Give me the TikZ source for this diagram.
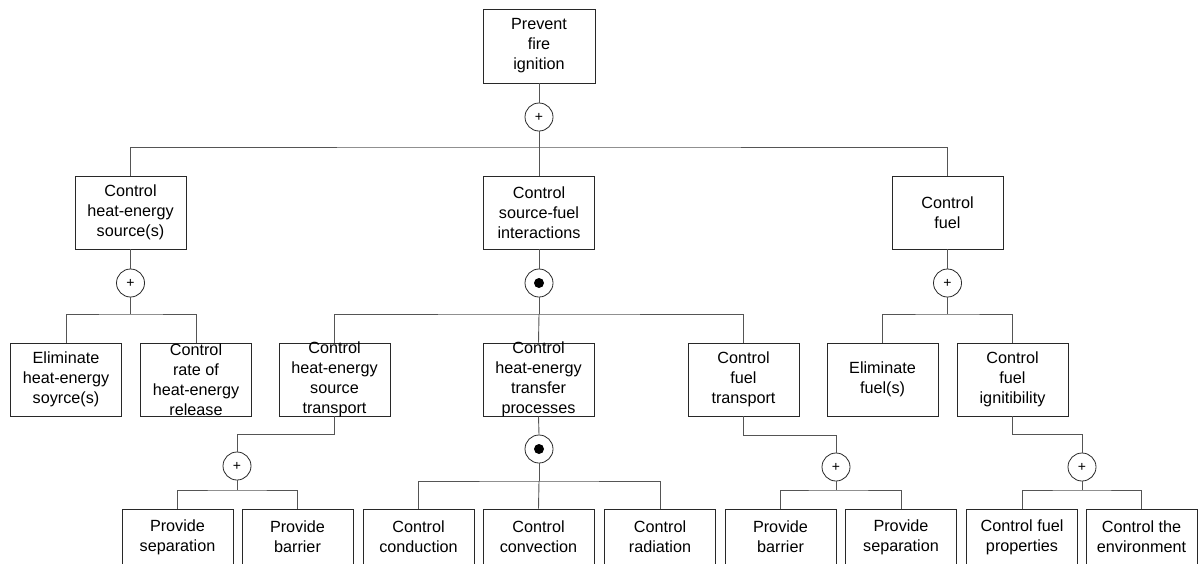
\documentclass[tikz,border=0pt]{standalone}
\usepackage{fontspec}
\setmainfont{Liberation Sans}
\definecolor{edgec}{RGB}{40,40,40}
\definecolor{linkc}{RGB}{85,85,85}
\tikzset{
  txt/.style={align=center, inner sep=0pt, font=\fontsize{16.2}{20}\selectfont},
  box/.style={draw=edgec, line width=0.9pt, fill=white, inner sep=0pt,
    minimum width=111pt, minimum height=73pt},
  tbox/.style={box, label={[txt]center:{#1}}},
  leaf/.style={tbox={#1}, minimum height=56pt},
  gate/.style={circle, draw=edgec, line width=0.8pt, fill=white, inner sep=0pt,
    minimum size=28pt, font=\fontsize{14}{14}\selectfont},
  orgate/.style={gate},
  andgate/.style={gate, path picture={\fill[black] (path picture bounding box.center) circle (5pt);}},
  link/.style={draw=linkc, line width=0.9pt}
}
\begin{document}
\begin{tikzpicture}[x=1pt,y=-1pt]
\useasboundingbox (0,0) rectangle (1199,563);
\clip (0,0) rectangle (1199,563);

% top goal
\node[tbox={Prevent\\fire\\ignition}, minimum width=112pt, minimum height=74pt] (p0) at (539,46) {};
\node[orgate] (g0) at (539,117) {+};
\coordinate (j0) at (539,147);

% second level
\node[tbox={Control\\heat-energy\\source(s)}] (a1) at (130.5,212.5) {};
\node[tbox={Control\\source-fuel\\interactions}] (a2) at (539,212.5) {};
\node[tbox={Control\\fuel}] (a3) at (947.5,212.5) {};

\node[orgate] (ga1) at (130.5,283) {+};
\node[andgate] (ga2) at (539,283) {};
\node[orgate] (ga3) at (947.5,283) {+};
\coordinate (ja1) at (130.5,314);
\coordinate (ja2) at (539,314);
\coordinate (ja3) at (947.5,314);

% third level
\node[tbox={Eliminate\\heat-energy\\soyrce(s)}] (b1) at (66,379.5) {};
\node[tbox={Control\\rate of\\heat-energy\\release}] (b2) at (196,379.5) {};
\node[tbox={Control\\heat-energy\\source\\transport}] (b3) at (334.5,379.5) {};
\node[tbox={Control\\heat-energy\\transfer\\processes}] (b4) at (538.5,379.5) {};
\node[tbox={Control\\fuel\\transport}] (b5) at (743.5,379.5) {};
\node[tbox={Eliminate\\fuel(s)}] (b6) at (882.5,379.5) {};
\node[tbox={Control\\fuel\\ignitibility}] (b7) at (1012.5,379.5) {};

\node[orgate] (gb3) at (237,466) {+};
\node[andgate] (gb4) at (539,449) {};
\node[orgate] (gb5) at (836,467) {+};
\node[orgate] (gb7) at (1082,467) {+};
\coordinate (kb3) at (237,434);
\coordinate (kb5) at (836,435);
\coordinate (kb7) at (1082,434);
\coordinate (jb3) at (237,490);
\coordinate (jb4) at (539,481);
\coordinate (jb5) at (836,490);
\coordinate (jb7) at (1082,490);

% fourth level
\node[leaf={Provide\\separation}] (c1) at (177.5,537) {};
\node[leaf={Provide\\barrier}] (c2) at (297.5,537) {};
\node[leaf={Control\\conduction}] (c3) at (418.5,537) {};
\node[leaf={Control\\convection}] (c4) at (538.5,537) {};
\node[leaf={Control\\radiation}] (c5) at (660,537) {};
\node[leaf={Provide\\barrier}] (c6) at (780.5,537) {};
\node[leaf={Provide\\separation}] (c7) at (901,537) {};
\node[leaf={Control fuel\\properties}] (c8) at (1022,537) {};
\node[leaf={Control the\\environment}] (c9) at (1141.5,537) {};

% connectors between goals and gates
\path[link] (p0.south) -- (g0.north);
\path[link] (g0.south) -- (j0);
\path[link] (a1.north) |- (j0) -| (a3.north);
\path[link] (j0) -- (a2.north);

\path[link] (a1.south) -- (ga1.north);
\path[link] (ga1.south) -- (ja1);
\path[link] (b1.north) |- (ja1) -| (b2.north);

\path[link] (a2.south) -- (ga2.north);
\path[link] (ga2.south) -- (ja2);
\path[link] (b3.north) |- (ja2) -| (b5.north);
\path[link] (ja2) -- (b4.north);

\path[link] (a3.south) -- (ga3.north);
\path[link] (ga3.south) -- (ja3);
\path[link] (b6.north) |- (ja3) -| (b7.north);

\path[link] (b3.south) |- (kb3) -- (gb3.north);
\path[link] (gb3.south) -- (jb3);
\path[link] (c1.north) |- (jb3) -| (c2.north);

\path[link] (b4.south) -- (gb4.north);
\path[link] (gb4.south) -- (jb4);
\path[link] (c3.north) |- (jb4) -| (c5.north);
\path[link] (jb4) -- (c4.north);

\path[link] (b5.south) |- (kb5) -- (gb5.north);
\path[link] (gb5.south) -- (jb5);
\path[link] (c6.north) |- (jb5) -| (c7.north);

\path[link] (b7.south) |- (kb7) -- (gb7.north);
\path[link] (gb7.south) -- (jb7);
\path[link] (c8.north) |- (jb7) -| (c9.north);
\end{tikzpicture}
\end{document}
